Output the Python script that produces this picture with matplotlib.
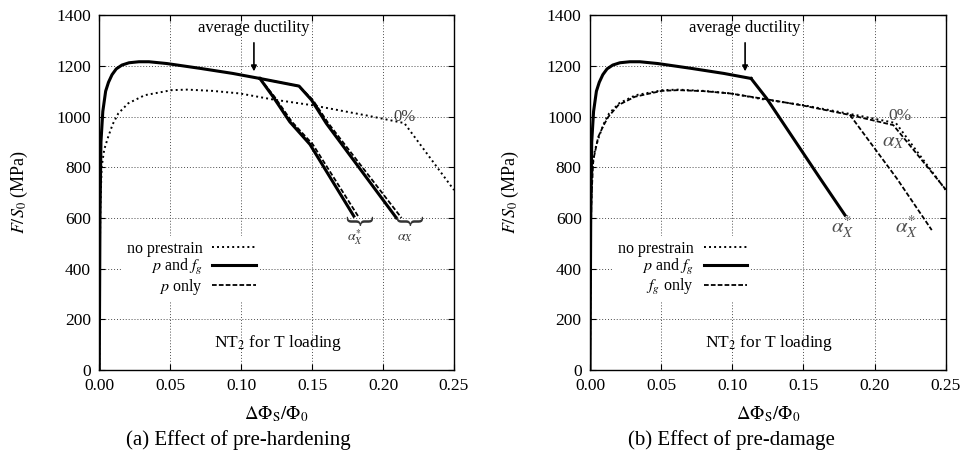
import matplotlib
matplotlib.use('Agg')
import matplotlib.pyplot as plt

plt.rcParams['font.family'] = ['Liberation Serif', 'DejaVu Serif']
plt.rcParams['mathtext.fontset'] = 'stix'
plt.rcParams['font.size'] = 12

# shared hardening curve of the pre-strained material (p and f_g)
pf_x = [0.0, 0.0005, 0.0012, 0.0025, 0.0045, 0.0065, 0.009, 0.012, 0.016, 0.021,
        0.028, 0.035, 0.0475, 0.071, 0.094, 0.1132]
pf_y = [0, 600, 900, 1020, 1100, 1135, 1165, 1188, 1203, 1212,
        1216, 1216, 1209, 1190, 1170, 1150]

# (a) branches after the average ductility point
a_pf_star_x = [0.1132, 0.1225, 0.1343, 0.1485, 0.1794]
a_pf_star_y = [1150, 1078, 979, 890, 607]
a_pf_x = [0.1132, 0.1408, 0.1496, 0.160, 0.2094]
a_pf_y = [1150, 1120, 1065, 973, 600]
a_p_star_x = [0.1132, 0.1235, 0.1358, 0.1505, 0.1824]
a_p_star_y = [1150, 1078, 979, 890, 607]
a_p_x = [0.1132, 0.1408, 0.1506, 0.1615, 0.213]
a_p_y = [1150, 1120, 1065, 973, 600]

# no prestrain (0%)
np_x = [0.0, 0.0003, 0.0008, 0.0017, 0.0035, 0.0063, 0.0095, 0.0134, 0.0204, 0.032,
        0.051, 0.062, 0.08, 0.099, 0.1225, 0.1496, 0.1894, 0.215, 0.25]
np_y = [0, 400, 650, 802, 870, 920, 970, 1012, 1052, 1084,
        1104, 1106, 1101, 1091, 1067, 1045, 1003, 974, 710]

# (b) p and f_g after average ductility
b_pf_x = [0.1132, 0.1242, 0.1617, 0.1792]
b_pf_y = [1150, 1071, 756, 611]

# (b) f_g only
fg_x = [0.0, 0.0004, 0.001, 0.0023, 0.0058, 0.0095, 0.0129, 0.0199, 0.0316, 0.0504,
        0.062, 0.08, 0.0984, 0.1252, 0.15, 0.1827]
fg_y = [0, 420, 680, 828, 920, 965, 999, 1045, 1078, 1101,
        1104, 1100, 1091, 1067, 1043, 1006]
fg_star_x = [0.1827, 0.2156, 0.2402]
fg_star_y = [1006, 756, 552]
fg_alpha_x = [0.1827, 0.2132, 0.2437, 0.25]
fg_alpha_y = [1006, 966, 756, 712]

xticks = [0.0, 0.05, 0.10, 0.15, 0.20, 0.25]
xtick_labels = ['0.00', '0.05', '0.10', '0.15', '0.20', '0.25']
yticks = [0, 200, 400, 600, 800, 1000, 1200, 1400]

dot = (0, (1, 1.6))
dash = (0, (2.6, 1.2))

fig = plt.figure(figsize=(9.6, 4.55), dpi=100)
ax1 = fig.add_axes([0.1034, 0.1868, 0.3695, 0.780])
ax2 = fig.add_axes([0.6146, 0.1868, 0.3705, 0.780])


def setup(ax):
    ax.set_xlim(0, 0.25)
    ax.set_ylim(0, 1400)
    ax.set_xticks(xticks)
    ax.set_xticklabels(xtick_labels)
    ax.set_yticks(yticks)
    ax.tick_params(direction='in', top=True, right=True, length=4, width=0.8,
                   labelsize=12.5, pad=6)
    ax.grid(True, linestyle=(0, (1, 2)), color='0.3', lw=0.7)
    for s in ax.spines.values():
        s.set_linewidth(1.0)
    ax.set_xlabel(r'$\Delta\Phi_\mathrm{S}/\Phi_0$', fontsize=13.5, labelpad=7)
    ax.set_ylabel(r'$F/S_0$ (MPa)', fontsize=13, labelpad=19)
    ax.annotate('average ductility', xy=(0.109, 1178), xytext=(0.109, 1318),
                ha='center', va='bottom', fontsize=12,
                arrowprops=dict(arrowstyle='-|>', lw=1.2, color='k',
                                shrinkA=3, shrinkB=0, mutation_scale=8))
    ax.text(0.126, 106, r'NT$_2$ for T loading', ha='center', va='center', fontsize=12.5)


legend_kw = dict(loc='center right', bbox_to_anchor=(0.1135, 400), markerfirst=False,
                 frameon=True, facecolor='white', edgecolor='none', framealpha=1,
                 fancybox=False, handlelength=2.7, handletextpad=0.6, labelspacing=0.0,
                 borderpad=0.3, borderaxespad=0, fontsize=11.5)

# ---- (a) pre-hardening
setup(ax1)
l_np, = ax1.plot(np_x, np_y, color='k', lw=1.4, ls=dot)
l_pf, = ax1.plot(pf_x, pf_y, color='k', lw=2.2)
ax1.plot(a_pf_star_x, a_pf_star_y, color='k', lw=2.2)
ax1.plot(a_pf_x, a_pf_y, color='k', lw=2.2)
l_p, = ax1.plot(a_p_star_x, a_p_star_y, color='k', lw=1.3, ls=dash)
ax1.plot(a_p_x, a_p_y, color='k', lw=1.3, ls=dash)

ax1.text(0.2153, 999, '0%', ha='center', va='center', fontsize=12, color='0.25')
ax1.text(0.1801, 583, '}', rotation=-90, ha='center', va='center', fontsize=22,
         color='0.2', fontweight='light')
ax1.text(0.2153, 583, '}', rotation=-90, ha='center', va='center', fontsize=22,
         color='0.2', fontweight='light')
ax1.text(0.1801, 522, r'$\alpha_X^{*}$', ha='center', va='center', fontsize=10, color='0.2')
ax1.text(0.2153, 522, r'$\alpha_X$', ha='center', va='center', fontsize=10, color='0.2')

ax1.legend([l_np, l_pf, l_p], ['no prestrain', r'$p$ and $f_g$', r'$p$ only'],
           bbox_transform=ax1.transData, **legend_kw)

# ---- (b) pre-damage
setup(ax2)
m_np, = ax2.plot(np_x, np_y, color='k', lw=1.4, ls=dot)
m_fg, = ax2.plot(fg_x, fg_y, color='k', lw=1.3, ls=dash)
ax2.plot(fg_star_x, fg_star_y, color='k', lw=1.3, ls=dash)
ax2.plot(fg_alpha_x, fg_alpha_y, color='k', lw=1.3, ls=dash)
m_pf, = ax2.plot(pf_x, pf_y, color='k', lw=2.2)
ax2.plot(b_pf_x, b_pf_y, color='k', lw=2.2)

ax2.text(0.2179, 1003, '0%', ha='center', va='center', fontsize=12.5, color='0.3')
ax2.text(0.2132, 900, r'$\alpha_X$', ha='center', va='center', fontsize=15, color='0.3')
ax2.text(0.1778, 564, r'$\alpha_X^{*}$', ha='center', va='center', fontsize=15, color='0.3')
ax2.text(0.2228, 564, r'$\alpha_X^{*}$', ha='center', va='center', fontsize=15, color='0.3')

ax2.legend([m_np, m_pf, m_fg], ['no prestrain', r'$p$ and $f_g$', r'$f_g$ only'],
           bbox_transform=ax2.transData, **legend_kw)

fig.text(238 / 960, 0.033, '(a) Effect of pre-hardening', ha='center', va='center', fontsize=15)
fig.text(731 / 960, 0.033, '(b) Effect of pre-damage', ha='center', va='center', fontsize=15)

fig.savefig('out.png', dpi=100)
